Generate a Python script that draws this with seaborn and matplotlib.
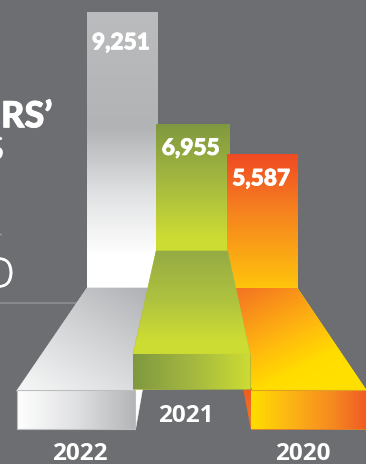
import numpy as np
import pandas as pd
import matplotlib
matplotlib.use("Agg")
import matplotlib.pyplot as plt
import matplotlib.patheffects as pe
import seaborn as sns
from matplotlib.colors import LinearSegmentedColormap
from matplotlib.patches import Polygon
from matplotlib.transforms import Affine2D

years = ["2022", "2021", "2020"]
values = [9251, 6955, 5587]

W, H = 366, 464
BG = "#6D6E71"
UNIT = 276 / 9251            # pixels per value unit
FLOOR_Y = 288                # pixel row of value 0 for the tallest column

sns.set_theme(style="white", rc={"axes.facecolor": BG, "figure.facecolor": BG})
fig = plt.figure(figsize=((W + 0.2) / 100, (H + 0.2) / 100), dpi=100)
ax = fig.add_axes([0, 0, 1, 1])

# Pixel-style coordinates (origin top left) for the perspective floor pieces
px = Affine2D().scale(1 / W, -1 / H).translate(0, 1) + ax.transAxes


def paint(patch, p0, p1, stops, z):
    """Fill a patch with a linear gradient running from p0 to p1."""
    cmap = LinearSegmentedColormap.from_list("g", stops)
    xx, yy = np.meshgrid(np.arange(W) + 0.5, np.arange(H) + 0.5)
    d = np.array(p1, float) - np.array(p0, float)
    t = ((xx - p0[0]) * d[0] + (yy - p0[1]) * d[1]) / (d @ d)
    im = ax.imshow(np.clip(t, 0, 1), cmap=cmap, vmin=0, vmax=1, aspect="auto",
                   extent=(0, W, H, 0), transform=px, zorder=z,
                   interpolation="nearest")
    im.set_clip_path(patch)


def piece(points, p0, p1, stops, z, edge=None):
    """Add a gradient polygon given in pixel coordinates."""
    face = stops[len(stops) // 2][1] if isinstance(stops[0], tuple) else stops[0]
    poly = Polygon(points, closed=True, transform=px, facecolor=face,
                   edgecolor=face, linewidth=0.4, zorder=z)
    ax.add_patch(poly)
    paint(poly, p0, p1, stops, z + 0.1)
    if edge:
        ax.add_patch(Polygon(points, closed=True, transform=px, fill=False,
                             edgecolor=edge, linewidth=0.8, zorder=z + 0.2))


# Columns: each rises from its own ground line, the lower part sits behind its floor
column_spec = {
    "2022": dict(base=0.0, left=87, right=157, z=2, fade=(12, 256),
                 stops=[(0, "#BBBCBE"), (0.48, "#B1B3B5"), (0.75, "#E1E2E3"), (1, "#FFFFFF")]),
    "2021": dict(base=(288 - 331.5) / UNIT, left=156, right=229, z=5, fade=(124, 240),
                 stops=[(0, "#7F983F"), (0.5, "#A4B840"), (1, "#CDDC33")]),
    "2020": dict(base=(288 - 320.7) / UNIT, left=227, right=297, z=6, fade=(154, 288),
                 stops=[(0, "#F04A23"), (0.45, "#F6851F"), (1, "#FFC40C")]),
}

for year, value in zip(years, values):
    spec = column_spec[year]
    before = len(ax.patches)
    sns.barplot(x=[(spec["left"] + spec["right"]) / 2], y=[value], native_scale=True,
                color=spec["stops"][1][1], saturation=1, ax=ax, zorder=spec["z"],
                bottom=spec["base"], legend=False)
    bar = ax.patches[before]
    bar.set_x(spec["left"])
    bar.set_width(spec["right"] - spec["left"])
    bar.set_linewidth(0)
    paint(bar, (0, spec["fade"][0]), (0, spec["fade"][1]), spec["stops"], spec["z"] + 0.1)

ax.set_xlim(0, W)
ax.set_ylim(-(H - FLOOR_Y) / UNIT, FLOOR_Y / UNIT)
ax.axis("off")

# 2022 floor
piece([(87, 288), (149, 288), (134, 391), (16.5, 391)], (132, 270), (50, 400),
      [(0, "#ACAEB1"), (0.5, "#D2D3D5"), (1, "#F3F4F4")], 3)
piece([(16.5, 390), (134.5, 390), (134.5, 429), (16.5, 429)], (17, 0), (134, 0),
      [(0, "#FFFFFF"), (0.5, "#E0E1E3"), (1, "#B5B6B8")], 3.4, edge="#BDBEC0")
piece([(134.5, 429), (134.5, 389), (141.5, 389)], (0, 389), (0, 429),
      ["#FFFFFF", "#FFFFFF"], 3.3)

# 2020 floor
piece([(235, 288), (297, 288), (366, 390), (250, 390)], (245, 280), (300, 390),
      [(0, "#F36F24"), (0.55, "#FFB80F"), (0.85, "#FFDD00"), (1, "#FFDF00")], 7)
piece([(251, 390), (366, 390), (366, 429), (251, 429)], (251, 0), (366, 0),
      [(0, "#FFDD00"), (0.3, "#FDB913"), (0.7, "#F58A20"), (1, "#F15A24")], 7.4, edge=None)
piece([(243, 388), (251, 388), (251, 429)], (0, 388), (0, 429),
      ["#F15A24", "#F47B20"], 7.3)
ax.plot([251, 366], [390, 390], color="#E0A020", lw=0.8, transform=px, zorder=7.7)

# 2021 floor
piece([(156, 251), (227.5, 251), (250, 354), (133, 354)], (0, 251), (0, 340),
      [(0, "#95AB44"), (0.55, "#AFC23F"), (1, "#CDDC33")], 8)
piece([(133, 354), (250, 354), (250, 389), (133, 389)], (133, 0), (250, 0),
      [(0, "#7F983F"), (0.5, "#A4B840"), (1, "#CDDC33")], 8.4)

# Rule on the left, running behind the floors
ax.plot([0, 77], [303, 303], color="#898A8D", lw=1.4, transform=px, zorder=1,
        solid_capstyle="butt")
ax.plot([0, 1], [234, 234], color="#C4C5C7", lw=1.0, transform=px, zorder=1,
        solid_capstyle="butt")

# Value labels on the columns, thickened slightly with a white outline
text_kw = dict(color="white", family="Lato", transform=px, zorder=20)
thick = [pe.withStroke(linewidth=0.6, foreground="white")]
value_xy = {"2022": (121, 49.5), "2021": (190.7, 155), "2020": (261, 185.5)}
for year, value in zip(years, values):
    x, y = value_xy[year]
    ax.text(x, y, f"{value:,}", fontsize=16.3, fontweight=900, path_effects=thick,
            ha="center", va="baseline", **text_kw)

# Year labels below the floors
year_xy = {"2022": (80, 460), "2021": (186, 421.5), "2020": (302.7, 460)}
for year in years:
    x, y = year_xy[year]
    ax.text(x, y, year, fontsize=17.5, fontweight="bold", ha="center", va="baseline",
            **{**text_kw, "family": "Open Sans"})

# Heading text running off the left edge
ax.text(1, 127.5, "RS’", fontsize=26, fontweight=900, ha="left", va="baseline",
        path_effects=thick, **text_kw)
ax.text(4, 160, "S", fontsize=23, fontweight="normal", ha="right", va="baseline", **text_kw)
ax.text(14.5, 287, "O", fontsize=29, fontweight=300, ha="right", va="baseline",
        path_effects=[pe.withStroke(linewidth=0.5, foreground="white")],
        **{**text_kw, "family": "Open Sans"})

fig.savefig("out.png", dpi=100, facecolor=BG)
